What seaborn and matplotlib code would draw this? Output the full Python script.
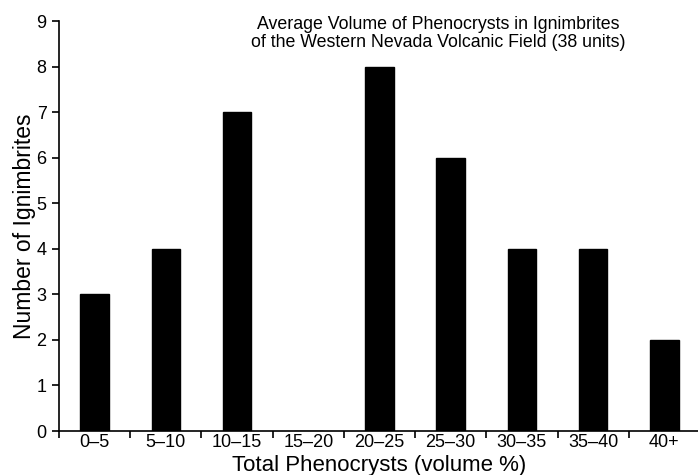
import matplotlib
matplotlib.use("Agg")
import matplotlib.pyplot as plt
import seaborn as sns
import pandas as pd
import numpy as np

# phenocryst volume bins and number of ignimbrites in each
bins = ["0–5", "5–10", "10–15", "15–20", "20–25", "25–30", "30–35", "35–40", "40+"]
counts = [3, 4, 7, 0, 8, 6, 4, 4, 2]
y_ticks = list(range(0, 10))

df = pd.DataFrame({"bin": bins, "count": counts})

sns.set_style("ticks", {"axes.edgecolor": "black", "text.color": "black",
                        "axes.labelcolor": "black", "xtick.color": "black",
                        "ytick.color": "black"})
plt.rcParams["font.family"] = ["Liberation Sans", "DejaVu Sans"]

fig = plt.figure(figsize=(6.98, 4.75), dpi=100)
ax = fig.add_axes([59 / 698, 44 / 475, 641 / 698, 410 / 475])

sns.barplot(data=df, x="bin", y="count", color="black", width=0.4,
            edgecolor="black", saturation=1, ax=ax)

ax.set_xlim(-0.5, len(bins) - 0.5)
ax.set_ylim(0, 9)
ax.set_yticks(y_ticks)

# labels at bar centres, tick marks at bin boundaries
ax.tick_params(axis="x", which="major", length=0, labelsize=13, pad=2.5)
ax.set_xticks(np.arange(len(bins)) - 0.5, minor=True)
ax.tick_params(axis="x", which="minor", length=5, width=1.2, direction="out")
ax.tick_params(axis="y", length=5, width=1.2, labelsize=13, pad=4)

ax.set_xlabel("Total Phenocrysts (volume %)", fontsize=16, labelpad=2.3)
ax.set_ylabel("Number of Ignimbrites", fontsize=16.5, labelpad=0)

for s in ["top", "right"]:
    ax.spines[s].set_visible(False)
ax.spines["left"].set_linewidth(1.2)
ax.spines["bottom"].set_linewidth(1.2)

fig.text(438 / 698, 1 - 16 / 475,
         "Average Volume of Phenocrysts in Ignimbrites\nof the Western Nevada Volcanic Field (38 units)",
         ha="center", va="top", fontsize=12.8, linespacing=1.07)

fig.savefig("out.png", dpi=100)
